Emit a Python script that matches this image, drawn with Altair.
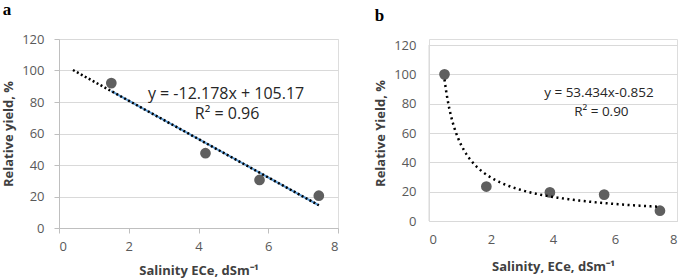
import altair as alt
import pandas as pd

# ---- Panel a data ----
a_x = [1.5, 4.2, 5.75, 7.45]
a_y = [92, 47.5, 30.5, 20.5]
a_slope = -12.178
a_intercept = 105.17
a_trend_x = [0.4, 7.45]          # dotted trend line extent
a_fit_x = [1.5, 7.45]            # solid blue fit extent
a_eq = "y = -12.178x + 105.17"
a_r2 = "R² = 0.96"
a_eq_pos = [4.79, 85.3]
a_r2_pos = [4.82, 72.6]

# ---- Panel b data ----
b_x = [0.5, 1.85, 3.9, 5.65, 7.45]
b_y = [100, 23.5, 19.5, 18, 7]
b_coef = 53.434
b_exp = -0.852
b_curve_range = [0.5, 7.45]
b_eq = "y = 53.434x-0.852"
b_r2 = "R² = 0.90"
b_eq_pos = [5.48, 87.0]
b_r2_pos = [5.56, 74.0]

y_ticks = [0, 20, 40, 60, 80, 100, 120]
x_ticks = [0, 2, 4, 6, 8]

FONT = "Open Sans"
GRID = "#d9d9d9"
AXISC = "#bfbfbf"
LABELC = "#595959"
TITLEC = "#404040"
PTC = "#5f5f5f"

# ---------- Panel a ----------
xa = alt.X("x:Q", scale=alt.Scale(domain=[0, 8], nice=False),
           axis=alt.Axis(values=x_ticks, title="Salinity ECe, dSm⁻¹", grid=False,
                         domainColor=AXISC, tickColor=AXISC, tickSize=5,
                         labelPadding=7, labelFont=FONT, labelFontSize=13, labelColor=LABELC,
                         titleFont=FONT, titleFontSize=13, titleFontWeight="bold",
                         titleColor=TITLEC, titlePadding=11))
ya = alt.Y("y:Q", scale=alt.Scale(domain=[0, 120], nice=False),
           axis=alt.Axis(values=y_ticks, title="Relative yield, %", gridColor=GRID,
                         domainColor=AXISC, tickColor=AXISC, tickSize=5, labelOverlap=False,
                         labelPadding=10, labelFont=FONT, labelFontSize=13, labelColor=LABELC,
                         titleFont=FONT, titleFontSize=13, titleFontWeight="bold",
                         titleColor=TITLEC, titlePadding=6))

pts_a = alt.Chart(pd.DataFrame({"x": a_x, "y": a_y})).mark_circle(
    size=115, opacity=1, color=PTC).encode(x=xa, y=ya)

fit_a = alt.Chart(pd.DataFrame({"x": a_fit_x})).transform_calculate(
    y=f"{a_slope}*datum.x + {a_intercept}"
).mark_line(color="#5b9bd5", strokeWidth=2).encode(x=xa, y=ya)

trend_a = alt.Chart(pd.DataFrame({"x": a_trend_x})).transform_calculate(
    y=f"{a_slope}*datum.x + {a_intercept}"
).mark_line(color="black", strokeWidth=2.5, strokeDash=[2, 2.5]).encode(x=xa, y=ya)

txt_a = alt.Chart(pd.DataFrame({"x": [a_eq_pos[0], a_r2_pos[0]], "y": [a_eq_pos[1], a_r2_pos[1]],
                                "t": [a_eq, a_r2]})).mark_text(
    font=FONT, fontSize=16, color="#262626", align="center", baseline="middle"
).encode(x=xa, y=ya, text="t:N")

panel_a = alt.layer(pts_a, fit_a, trend_a, txt_a).properties(
    width=279, height=189,
    title=alt.TitleParams("a", anchor="start", font="Liberation Serif", fontSize=17,
                          fontWeight="bold", color="black", offset=14)
)

# ---------- Panel b ----------
# view is 182 px tall; the y range leaves 6 px above the 120 gridline
xb = alt.X("x:Q", scale=alt.Scale(domain=[0, 8], nice=False),
           axis=alt.Axis(values=x_ticks, title="Salinity, ECe, dSm⁻¹", grid=False,
                         domainColor=GRID, ticks=False,
                         labelPadding=12, labelFont=FONT, labelFontSize=13, labelColor=LABELC,
                         titleFont=FONT, titleFontSize=13, titleFontWeight="bold",
                         titleColor=TITLEC, titlePadding=14))
yb = alt.Y("y:Q", scale=alt.Scale(domain=[0, 120], nice=False, range=[182, 6]),
           axis=alt.Axis(values=y_ticks, title="Relative Yield, %", gridColor=GRID,
                         domain=False, ticks=False, labelOverlap=False,
                         labelPadding=13, labelFont=FONT, labelFontSize=13, labelColor=LABELC,
                         titleFont=FONT, titleFontSize=13, titleFontWeight="bold",
                         titleColor=TITLEC, titlePadding=6))

edge_b = alt.Chart(pd.DataFrame({"x": [0], "y": [0], "y2": [120]})).mark_rule(
    color=GRID, strokeWidth=1).encode(x=xb, y=yb, y2="y2:Q")

pts_b = alt.Chart(pd.DataFrame({"x": b_x, "y": b_y})).mark_circle(
    size=115, opacity=1, color=PTC).encode(x=xb, y=yb)

curve_b = alt.Chart(alt.sequence(b_curve_range[0], b_curve_range[1] + 0.001, 0.05, as_="x")).transform_calculate(
    y=f"{b_coef}*pow(datum.x, {b_exp})"
).mark_line(color="black", strokeWidth=2.5, strokeDash=[2, 3.5]).encode(x=xb, y=yb)

txt_b = alt.Chart(pd.DataFrame({"x": [b_eq_pos[0], b_r2_pos[0]], "y": [b_eq_pos[1], b_r2_pos[1]],
                                "t": [b_eq, b_r2]})).mark_text(
    font=FONT, fontSize=13.5, color="#262626", align="center", baseline="middle"
).encode(x=xb, y=yb, text="t:N")

panel_b = alt.layer(edge_b, pts_b, curve_b, txt_b).properties(
    width=248, height=182,
    title=alt.TitleParams("b", anchor="start", font="Liberation Serif", fontSize=17,
                          fontWeight="bold", color="black", offset=14)
)

chart = alt.hconcat(panel_a, panel_b, spacing=35).properties(
    padding={"left": 2, "top": 0, "right": 0, "bottom": 0}
).configure_view(stroke=None).configure(background="white")

chart.save("out.html", embed_options={"renderer": "svg", "actions": False})
